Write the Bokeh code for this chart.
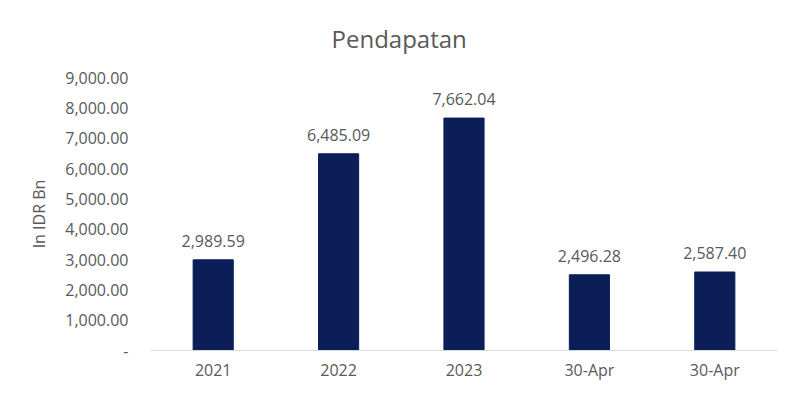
from bokeh.plotting import figure
from bokeh.models import Range1d, FixedTicker, NumeralTickFormatter, ColumnDataSource, Title
from bokeh.core.properties import value
from bokeh.embed import file_html
from bokeh.resources import INLINE

categories = ["2021", "2022", "2023", "30-Apr", "30-Apr"]
revenue = [2989.59, 6485.09, 7662.04, 2496.28, 2587.40]
y_ticks = [0, 1000, 2000, 3000, 4000, 5000, 6000, 7000, 8000, 9000]

FONT = "Open Sans"
GREY = "#595959"
NAVY = "#0b1e57"

xs = list(range(len(categories)))
labels = [f"{v:,.2f}" for v in revenue]
src = ColumnDataSource(dict(x=xs, top=revenue, label=labels))

p = figure(width=783, height=383, output_backend="svg", toolbar_location=None,
           x_range=Range1d(-0.5, len(categories) - 0.5), y_range=Range1d(0, 9000),
           min_border_left=150, min_border_right=6, min_border_bottom=32, min_border_top=76)
p.outline_line_color = None
p.xgrid.visible = False
p.ygrid.visible = False

t = Title(text="Pendapatan", align="left", offset=181, vertical_align="top",
          text_font=FONT, text_font_size="24px",
          text_font_style="normal", text_color=GREY, standoff=42)
p.add_layout(t, "above")

p.vbar(x="x", top="top", width=0.32, source=src, color=NAVY)
p.text(x="x", y="top", text="label", source=src, text_align="center", text_baseline="middle",
       y_offset=-19, text_font=value(FONT), text_font_size="16px", text_color=GREY)

xa = p.xaxis[0]
xa.ticker = FixedTicker(ticks=xs)
xa.major_label_overrides = {i: c for i, c in enumerate(categories)}
xa.major_tick_line_color = None
xa.major_tick_out = 0
xa.major_tick_in = 0
xa.minor_tick_line_color = None
xa.minor_tick_out = 0
xa.axis_line_color = "#d9d9d9"
xa.axis_line_width = 1
xa.major_label_standoff = 8
xa.major_label_text_font = FONT
xa.major_label_text_font_size = "16px"
xa.major_label_text_color = GREY

ya = p.yaxis[0]
ya.ticker = FixedTicker(ticks=y_ticks)
ya.formatter = NumeralTickFormatter(format="0,0.00")
ya.major_label_overrides = {0: "-"}
ya.axis_line_color = None
ya.major_tick_line_color = None
ya.major_tick_out = 0
ya.major_tick_in = 0
ya.minor_tick_line_color = None
ya.minor_tick_out = 0
ya.major_label_standoff = 22
ya.major_label_text_font = FONT
ya.major_label_text_font_size = "16px"
ya.major_label_text_color = GREY
ya.axis_label = "In IDR Bn"
ya.axis_label_standoff = 12
ya.axis_label_text_font = FONT
ya.axis_label_text_font_size = "16px"
ya.axis_label_text_font_style = "normal"
ya.axis_label_text_color = GREY

open("out.html", "w").write(file_html(p, INLINE))
